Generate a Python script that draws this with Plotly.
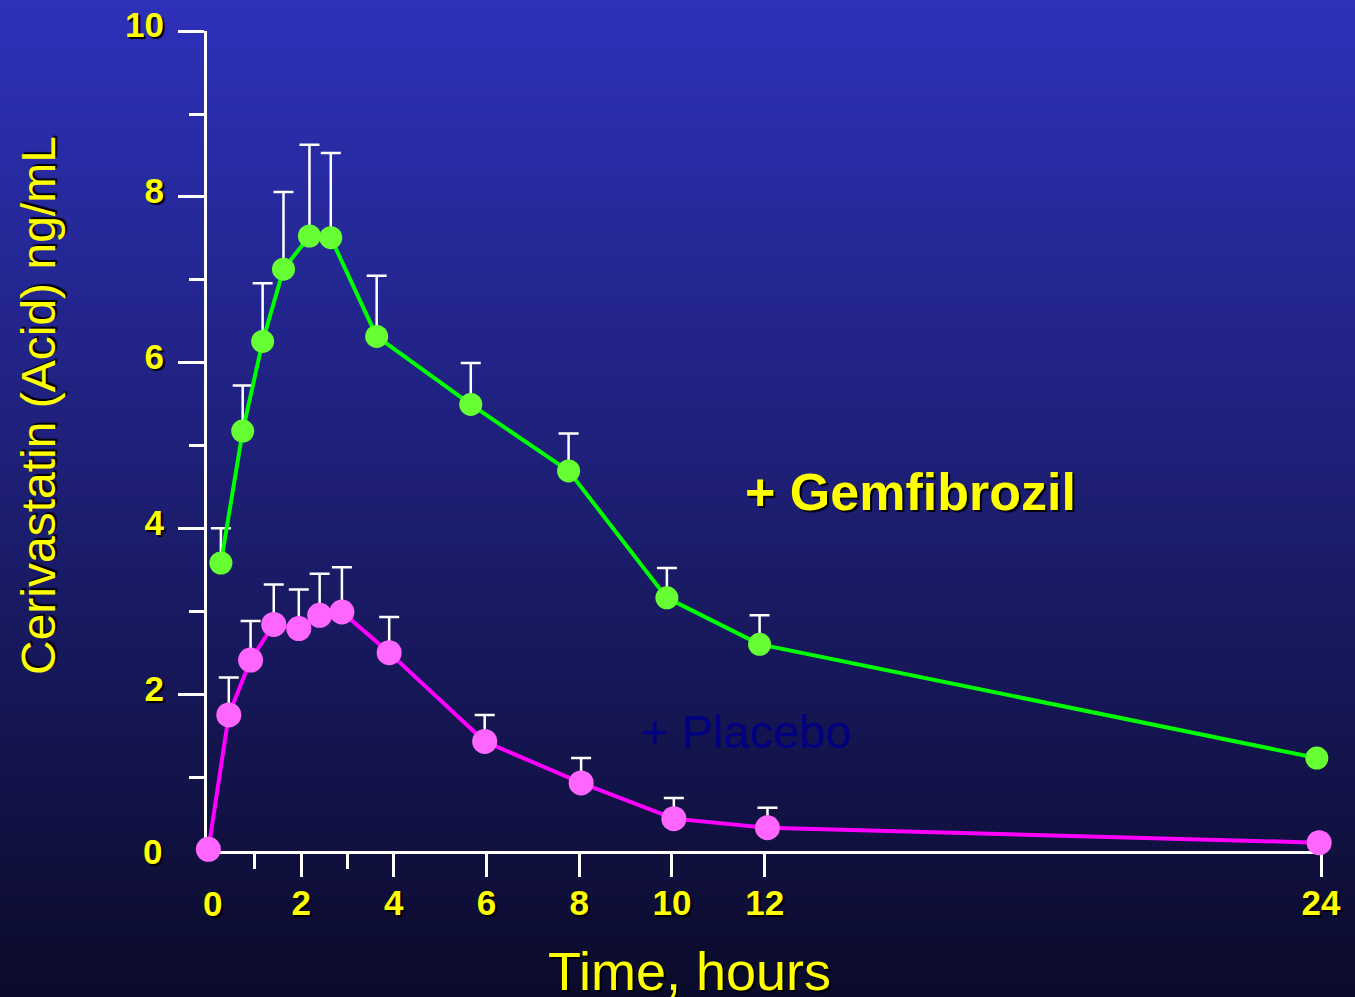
import plotly.graph_objects as go

# cerivastatin acid plasma levels
gem_time = [0.27, 0.74, 1.17, 1.62, 2.18, 2.64, 3.63, 5.66, 7.77, 9.89, 11.89, 23.91]
gem_conc = [3.59, 5.18, 6.26, 7.13, 7.53, 7.51, 6.32, 5.50, 4.70, 3.17, 2.61, 1.24]
gem_sd = [0.42, 0.55, 0.70, 0.93, 1.10, 1.02, 0.73, 0.50, 0.45, 0.36, 0.35, 0.0]

plac_time = [0.0, 0.44, 0.91, 1.41, 1.95, 2.40, 2.88, 3.90, 5.96, 8.04, 10.04, 12.06, 23.96]
plac_conc = [0.14, 1.76, 2.42, 2.85, 2.80, 2.96, 3.00, 2.51, 1.44, 0.94, 0.51, 0.40, 0.22]
plac_sd = [0.0, 0.45, 0.47, 0.48, 0.47, 0.50, 0.54, 0.43, 0.32, 0.30, 0.25, 0.24, 0.0]

x_ticks = [2, 4, 6, 8, 10, 12, 24]
x_minor = [1, 3]
y_ticks = [2, 4, 6, 8, 10]
y_minor = [1, 3, 5, 7, 9]

W, H = 1355, 997
FONT = "Liberation Sans, Arial, sans-serif"
YELLOW = "#ffff00"
SHADOW = "2px 2px 1px #000000"


def px(x):
    return x / W


def py(y):
    return 1 - y / H


fig = go.Figure()

fig.add_trace(go.Scatter(
    x=plac_time, y=plac_conc, mode="lines+markers", name="+ Placebo",
    line=dict(color="#ff00ff", width=4),
    marker=dict(color="#ff66ff", size=25, line=dict(width=0)),
    error_y=dict(type="data", symmetric=False, array=plac_sd,
                 arrayminus=[0] * len(plac_sd), color="white", thickness=2.5, width=10),
    cliponaxis=False,
))
fig.add_trace(go.Scatter(
    x=gem_time, y=gem_conc, mode="lines+markers", name="+ Gemfibrozil",
    line=dict(color="#00ff00", width=4),
    marker=dict(color="#66ff33", size=23, line=dict(width=0)),
    error_y=dict(type="data", symmetric=False, array=gem_sd,
                 arrayminus=[0] * len(gem_sd), color="white", thickness=2.5, width=10),
    cliponaxis=False,
))

# vertical gradient background, built from overlapping thin bands
top = (46, 49, 186)
bottom = (11, 11, 42)
n_bands = 120
shapes = []
for i in range(n_bands):
    f = (i + 0.5) / n_bands
    c = tuple(round(top[k] + (bottom[k] - top[k]) * f) for k in range(3))
    shapes.append(dict(
        type="rect", xref="paper", yref="paper", layer="below",
        x0=0, x1=1, y0=1 - (i + 2) / n_bands, y1=1 - i / n_bands,
        fillcolor="rgb(%d,%d,%d)" % c, line=dict(width=0),
    ))

tick_font = dict(family=FONT, size=35, color=YELLOW, weight="bold", shadow=SHADOW)

fig.update_layout(
    width=W, height=H,
    margin=dict(l=0, r=0, t=0, b=0, pad=0, autoexpand=False),
    paper_bgcolor="rgb(11,11,42)",
    plot_bgcolor="rgba(0,0,0,0)",
    showlegend=False,
    shapes=shapes,
    xaxis=dict(
        domain=[px(207), px(1321)], range=[-0.03, 24],
        showgrid=False, zeroline=False, automargin=False,
        showline=True, linecolor="white", linewidth=3,
        ticks="outside", tickcolor="white", tickwidth=3, ticklen=23,
        tickvals=x_ticks, ticktext=[str(v) for v in x_ticks],
        tickfont=tick_font, layer="below traces", ticklabelstandoff=-4,
        minor=dict(tickvals=x_minor, ticks="outside", ticklen=15,
                   tickcolor="white", tickwidth=3, showgrid=False),
    ),
    yaxis=dict(
        domain=[py(851), py(31)], range=[0.12, 10],
        showgrid=False, zeroline=False, automargin=False,
        showline=True, linecolor="white", linewidth=3,
        ticks="outside", tickcolor="white", tickwidth=3, ticklen=26,
        tickvals=y_ticks, ticktext=[str(v) for v in y_ticks],
        tickfont=tick_font, layer="below traces",
        ticklabelstandoff=7, ticklabelshift=-6,
        minor=dict(tickvals=y_minor, ticks="outside", ticklen=15,
                   tickcolor="white", tickwidth=3, showgrid=False),
    ),
    annotations=[
        # origin labels (no tick marks at the origin on the slide)
        dict(text="0", xref="x", x=0, yref="paper", y=py(903), xshift=4,
             showarrow=False, font=tick_font, xanchor="center", yanchor="middle"),
        dict(text="0", xref="paper", x=px(164), yref="paper", y=py(851),
             showarrow=False, font=tick_font, xanchor="right", yanchor="middle"),
        # axis titles
        dict(text="Time, hours", xref="paper", yref="paper", x=px(689), y=py(971),
             showarrow=False, xanchor="center", yanchor="middle",
             font=dict(family=FONT, size=54, color=YELLOW, shadow=SHADOW)),
        dict(text="Cerivastatin (Acid) ng/mL", xref="paper", yref="paper",
             x=px(39), y=py(406), textangle=-90, showarrow=False,
             xanchor="center", yanchor="middle",
             font=dict(family=FONT, size=48, color=YELLOW, shadow=SHADOW)),
        # series labels
        dict(text="+ Gemfibrozil", xref="paper", yref="paper", x=px(910), y=py(492),
             showarrow=False, xanchor="center", yanchor="middle",
             font=dict(family=FONT, size=52, color=YELLOW, weight="bold", shadow=SHADOW)),
        dict(text="+ Placebo", xref="paper", yref="paper", x=px(746), y=py(731),
             showarrow=False, xanchor="center", yanchor="middle",
             font=dict(family=FONT, size=47, color="#000080")),
    ],
)

# drop the browser's default 8px body margin so the slide fills the window
fig.write_html(
    "out.html",
    config={"displayModeBar": False},
    post_script="document.body.style.margin='0';document.body.style.background='rgb(11,11,42)';",
)
